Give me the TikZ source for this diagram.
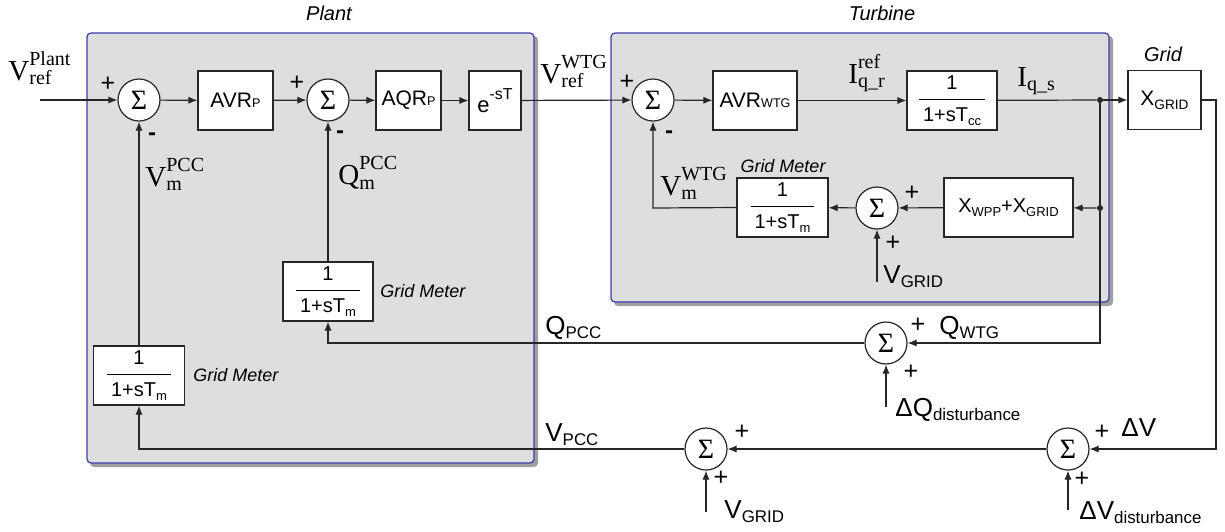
\documentclass[tikz,border=0pt]{standalone}
\usepackage{fontspec}
\usepackage{graphicx}
\setmainfont{Liberation Sans}
\newfontfamily\tms{Liberation Serif}
\usetikzlibrary{arrows.meta}
\definecolor{panelfill}{HTML}{DEDEDE}
\definecolor{panelline}{HTML}{3A3AB0}
\definecolor{shadowc}{HTML}{A0A0A0}
\definecolor{wire}{HTML}{262626}
\newcommand\tv[3]{$\hbox{\tms\fontsize{14.5}{15}\selectfont #1}^{\hbox{\tms\fontsize{10}{10}\selectfont #2}}_{\hbox{\tms\fontsize{10}{10}\selectfont #3}}$}
\newcommand\dn[1]{\raisebox{-0.35ex}{\scalebox{0.65}{#1}}}
\newcommand\bsm[1]{\scalebox{0.6}{#1}}
\newcommand\frc[1]{\begin{tabular}{@{\hspace{2pt}}c@{\hspace{2pt}}}1\\[1pt]\hline\rule{0pt}{11pt}#1\end{tabular}}
\tikzset{
  ln/.style={line width=0.6pt, draw=wire},
  arr/.style={ln, -{Latex[length=4.5pt,width=3.6pt]}},
  blk/.style={draw=wire, line width=0.6pt, fill=white, minimum height=29.5pt, inner sep=0pt, font=\fontsize{10.5}{12}\selectfont},
  sm/.style={circle, draw=wire, line width=0.6pt, fill=white, minimum size=21pt, inner sep=0pt, font=\tms\fontsize{14}{14}\selectfont},
  sgn/.style={font=\fontsize{12.5}{12}\selectfont, inner sep=0pt},
  msgn/.style={font=\bfseries\fontsize{12}{12}\selectfont, inner sep=0pt},
  gm/.style={font=\itshape\fontsize{9}{10}\selectfont, inner sep=0pt},
  ttl/.style={font=\itshape\fontsize{10}{12}\selectfont, inner sep=0pt},
  lbl/.style={font=\fontsize{13}{13}\selectfont, inner sep=0pt},
  slbl/.style={inner sep=0pt},
  dotn/.style={circle, fill=wire, inner sep=0pt, minimum size=3pt},
  panel/.style={draw=panelline, fill=panelfill, rounded corners=2pt, line width=0.6pt},
  shad/.style={fill=shadowc, rounded corners=2pt},
}
\begin{document}
\begin{tikzpicture}[x=0.5pt,y=-0.5pt]
\useasboundingbox (0,0) rectangle (1225,531);
% panels
\fill[shad] (90,36) rectangle (538,467);
\draw[panel] (87,33) rectangle (534,463);
\fill[shad] (614,36) rectangle (1113,306);
\draw[panel] (611,33) rectangle (1109,302);
\node[ttl] (tplant) at (329,13) {Plant};
\node[ttl] (tturb) at (882,13) {Turbine};
\node[ttl] (tgrid) at (1163,54) {Grid};

% main path
\coordinate (in) at (40,100);
\node[sm] (sA) at (139,100) {Σ};
\node[blk, minimum width=37.5pt] (avrP) at (235.5,100.5) {AVR\bsm{P}};
\node[sm] (sB) at (328,100) {Σ};
\node[blk, minimum width=32.5pt] (aqrP) at (408.5,100.5) {AQR\bsm{P}};
\node[blk, minimum width=26pt, font=\fontsize{11}{12}\selectfont] (dly) at (495,100.5) {e\raisebox{1.1ex}{\scalebox{0.72}{-sT}}};
\node[sm] (sC) at (653,100) {Σ};
\node[blk, minimum width=42pt] (avrW) at (755,100.5) {AVR\bsm{WTG}};
\node[blk, minimum width=45pt, font=\fontsize{10}{12}\selectfont] (tcc) at (952,100.5) {\frc{1+sT\dn{cc}}};
\node[dotn] (d1) at (1100,100) {};
\node[blk, minimum width=36.5pt] (xg) at (1164.5,100) {X\dn{GRID}};
\coordinate (xgr) at (1216,100);
\coordinate (xgb) at (1216,449);

% turbine feedback
\node[blk, minimum width=45.5pt, font=\fontsize{10}{12}\selectfont] (gmT) at (782.5,207.5) {\frc{1+sT\dn{m}}};
\node[gm] (gmTl) at (783,166) {Grid Meter};
\node[sm] (sD) at (877,208) {Σ};
\node[blk, minimum width=64.5pt, font=\fontsize{10}{12}\selectfont] (xwpp) at (1008.5,207.5) {X\dn{WPP}+X\dn{GRID}};
\node[dotn] (d2) at (1100,208) {};
\coordinate (cT) at (653,208);
\coordinate (vgT) at (877,282);
\coordinate (cQ) at (1100,343);

% plant feedback
\node[blk, minimum width=45pt, font=\fontsize{10}{12}\selectfont] (gmP2) at (328,291.5) {\frc{1+sT\dn{m}}};
\node[gm, anchor=west] (gmP2l) at (380,291) {Grid Meter};
\node[blk, minimum width=45.5pt, font=\fontsize{10}{12}\selectfont] (gmP1) at (139,375.5) {\frc{1+sT\dn{m}}};
\node[gm, anchor=west] (gmP1l) at (193,375) {Grid Meter};
\coordinate (cQP) at (328,343);
\coordinate (cVP) at (139,449);

% bottom sums
\node[sm] (sE) at (886,343) {Σ};
\node[sm] (sF) at (706,449) {Σ};
\node[sm] (sG) at (1068,449) {Σ};
\coordinate (dQ) at (886,407);
\coordinate (vgB) at (706,512);
\coordinate (dV) at (1068,510);

% connectors
\draw[arr] (in) -- (sA.west);
\draw[arr] (sA) -- (avrP);
\draw[arr] (avrP) -- (sB);
\draw[arr] (sB) -- (aqrP);
\draw[arr] (aqrP) -- (dly);
\draw[arr] (dly) -- (sC);
\draw[arr] (sC) -- (avrW);
\draw[arr] (avrW) -- (tcc);
\draw[ln] (tcc) -- (d1);
\draw[arr] (d1) -- (xg);
\draw[arr] (xg.east) -- (xgr) -- (xgb) -- (sG.east);
\draw[ln] (d1) -- (d2);
\draw[arr] (d2) -- (xwpp);
\draw[arr] (xwpp) -- (sD);
\draw[arr] (sD) -- (gmT);
\draw[arr] (gmT.west) -- (cT) -- (sC.south);
\draw[arr] (vgT) -- (sD.south);
\draw[arr] (d2) -- (cQ) -- (sE.east);
\draw[arr] (sE.west) -- (cQP) -- (gmP2.south);
\draw[arr] (gmP2) -- (sB);
\draw[arr] (dQ) -- (sE.south);
\draw[arr] (sG) -- (sF);
\draw[arr] (sF.west) -- (cVP) -- (gmP1.south);
\draw[arr] (gmP1) -- (sA);
\draw[arr] (vgB) -- (sF.south);
\draw[arr] (dV) -- (sG.south);

% signs
\node[sgn] (pA1) at (108,84) {+};
\node[msgn] (mA) at (152,137) {-};
\node[sgn] (pB1) at (297,83) {+};
\node[msgn] (mB) at (340,135) {-};
\node[sgn] (pC1) at (627,82) {+};
\node[msgn] (mC) at (669,135) {-};
\node[sgn] (pD1) at (912,193) {+};
\node[sgn] (pD2) at (893,243) {+};
\node[sgn] (pE1) at (918,325) {+};
\node[sgn] (pE2) at (911,372) {+};
\node[sgn] (pF1) at (742,432) {+};
\node[sgn] (pF2) at (721,478) {+};
\node[sgn] (pG1) at (1102,432) {+};
\node[sgn] (pG2) at (1082,479) {+};

% signal labels
\node[slbl, anchor=base west] (lVp) at (8,80) {\tv{V}{Plant}{ref}};
\node[slbl, anchor=base west] (lVw) at (540,83) {\tv{V}{WTG}{ref}};
\node[slbl, anchor=base west] (lIr) at (848,83) {\tv{I}{ref}{q\_r}};
\node[slbl, anchor=base west] (lIs) at (1017,86) {\tv{I}{}{q\_s}};
\node[slbl, anchor=base west] (lVm) at (145,186) {\tv{V}{PCC}{m}};
\node[slbl, anchor=base west] (lQm) at (338,184) {\tv{Q}{PCC}{m}};
\node[slbl, anchor=base west] (lVmw) at (660,195) {\tv{V}{WTG}{m}};
\node[lbl, anchor=base west] (lQpcc) at (545,334) {Q\dn{PCC}};
\node[lbl, anchor=base west] (lVpcc) at (545,441) {V\dn{PCC}};
\node[lbl, anchor=base west] (lQw) at (939,334) {Q\dn{WTG}};
\node[lbl, anchor=base west] (lVgT) at (883,283) {V\dn{GRID}};
\node[lbl, anchor=base west] (lVgB) at (724,518) {V\dn{GRID}};
\node[lbl, anchor=base west] (ldQ) at (895,416) {ΔQ\dn{disturbance}};
\node[lbl, anchor=base west] (ldVl) at (1121,436) {ΔV};
\node[lbl, anchor=base west] (ldVd) at (1079,519) {ΔV\dn{disturbance}};
\end{tikzpicture}
\end{document}
